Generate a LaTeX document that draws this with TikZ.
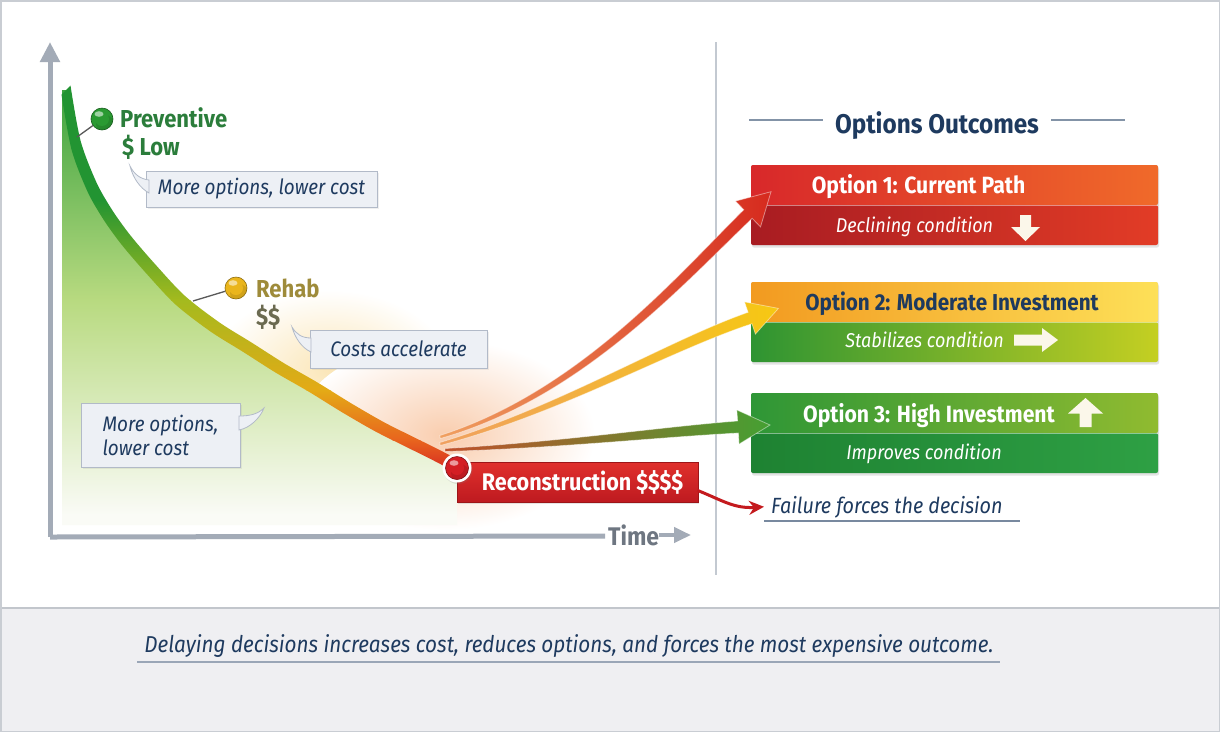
\documentclass[tikz,border=0pt]{standalone}
\usepackage{fontspec}
\setmainfont{Fira Sans}[FakeStretch=0.9]
\usetikzlibrary{arrows.meta,shadows,calc}
\definecolor{navy}{HTML}{1E3A5F}
\definecolor{prevgreen}{HTML}{2B7D3B}
\definecolor{rehabcol}{HTML}{9E8B3A}
\definecolor{dollarcol}{HTML}{6B6A50}
\definecolor{callfill}{HTML}{EDF0F5}
\definecolor{callline}{HTML}{B2BAC8}
\definecolor{axiscol}{HTML}{A3ABB7}
\definecolor{timecol}{HTML}{6E7681}
\definecolor{divcol}{HTML}{C3C9D1}
\definecolor{panelcol}{HTML}{EFEFF2}
\definecolor{panelline}{HTML}{C2C6CC}
\definecolor{framecol}{HTML}{C9CDD3}
\definecolor{glowcol}{HTML}{F9CDAE}
\definecolor{glowcol2}{HTML}{FBE6B8}
\definecolor{fillA}{HTML}{3AA23E}
\definecolor{fillB}{HTML}{B8DA80}
\definecolor{fillC}{HTML}{FAFBF6}
\definecolor{curveG}{HTML}{229432}
\definecolor{curveYG}{HTML}{A4BA1E}
\definecolor{curveY}{HTML}{E4AA16}
\definecolor{curveO}{HTML}{E8641E}
\definecolor{curveR}{HTML}{D42222}
\definecolor{failred}{HTML}{C41A1E}
\definecolor{arrwhite}{HTML}{FBF7EA}
\definecolor{ballG}{HTML}{2A9A32}
\definecolor{ballY}{HTML}{EAB51C}
\definecolor{ballR}{HTML}{D41E24}
\definecolor{oA1}{HTML}{D8282A}\definecolor{oA2}{HTML}{F06A2A}
\definecolor{oB1}{HTML}{A81C22}\definecolor{oB2}{HTML}{E23C26}
\definecolor{oC1}{HTML}{F29A20}\definecolor{oC2}{HTML}{FDE058}
\definecolor{oD1}{HTML}{2E9432}\definecolor{oD2}{HTML}{C4CF22}
\definecolor{oE1}{HTML}{2E9636}\definecolor{oE2}{HTML}{90BB30}
\definecolor{oF1}{HTML}{1E8232}\definecolor{oF2}{HTML}{2EA044}
\definecolor{aR1}{HTML}{F0A060}\definecolor{aR2}{HTML}{D62A1E}
\definecolor{aY1}{HTML}{F0A060}\definecolor{aY2}{HTML}{F6C812}
\definecolor{aG1}{HTML}{C0502A}\definecolor{aG2}{HTML}{45A032}
\definecolor{recA}{HTML}{E0302C}\definecolor{recB}{HTML}{BE1A20}
\newcommand\myfs[1]{\fontsize{#1}{#1}\selectfont}
\tikzset{
  vgrad/.style 2 args={top color=#1, bottom color=#2},
  hgrad/.style 2 args={left color=#1, right color=#2},
  lbl/.style={inner sep=0pt, font=\myfs{24.5}\bfseries},
  callout/.style={draw=callline, fill=callfill, line width=0.9pt, inner sep=0pt,
    text=navy, font=\fontsize{21}{24}\selectfont\itshape,
    drop shadow={opacity=0.12, shadow xshift=1.5pt, shadow yshift=-2pt}},
  tail/.style={fill=callfill, draw=callline, line width=0.8pt},
  stem/.style={draw=black!65, line width=1.3pt},
  ballnode/.style={circle, inner sep=0pt, draw=#1!60!black, line width=0.6pt, fill=#1,
    path picture={
      \fill[#1!70!black, opacity=0.35] ($(path picture bounding box.center)+(3,5)$) circle (9pt);
      \fill[#1] (path picture bounding box.center) circle (7pt);
      \fill[white, opacity=0.55] ($(path picture bounding box.center)+(-3,-5)$) ellipse [x radius=4.5, y radius=2.8];}},
  axisline/.style={draw=axiscol, line width=5pt},
  optbox/.style={minimum width=407pt, minimum height=80pt, inner sep=0pt, rounded corners=2pt,
    fill=black!20, drop shadow={opacity=0.22, shadow xshift=1pt, shadow yshift=-2.5pt}},
  half/.style={minimum width=407pt, minimum height=40pt, inner sep=0pt, rounded corners=2pt},
  opttitle/.style={inner sep=0pt, font=\myfs{23.5}\bfseries, anchor=base},
  optsub/.style={inner sep=0pt, font=\myfs{20}\itshape, text=white, anchor=base},
  bigarrow/.style={draw=white, draw opacity=0.45, line width=0.8pt},
}
\begin{document}
\begin{tikzpicture}[x=1pt,y=-1pt]
\useasboundingbox (0,0) rectangle (1220,732);
\fill[white] (0,0) rectangle (1220,732);

% glow near reconstruction
\shade[inner color=glowcol2, outer color=white] (330,370) ellipse [x radius=120, y radius=80];
\shade[inner color=glowcol, outer color=white] (445,435) ellipse [x radius=150, y radius=95];

% area under curve
\begin{scope}
\clip plot[smooth] coordinates {(66,90) (76,145) (92,187) (108,215) (126,240) (150,268) (180,300) (215,327) (247,347) (280,368) (313,387) (347,408) (380,427) (412,443) (440,457) (457,466)}
  -- (457,525) -- (62,525) -- (62,90) -- cycle;
\shade[vgrad={fillA}{fillB}] (55,85) rectangle (465,300);
\shade[vgrad={fillB}{fillC}] (55,300) rectangle (465,515);
\fill[fillC] (55,514) rectangle (465,527);
\end{scope}

% cost curve band
\begin{scope}
\clip plot[smooth] coordinates {(70.5,85.5) (80.5,140.5) (96.5,182.5) (112.5,210.5) (130.5,235.5) (154.5,263.5) (184.5,295.5) (219.5,322.5) (251.5,342.5) (284.5,363.5) (317.5,382.5) (351.5,403.5) (384.5,422.5) (416.5,438.5) (444.5,452.5) (461.5,461.5)}
  -- plot[smooth] coordinates {(452.5,470.5) (435.5,461.5) (407.5,447.5) (375.5,431.5) (342.5,412.5) (308.5,391.5) (275.5,372.5) (242.5,351.5) (210.5,331.5) (175.5,304.5) (145.5,272.5) (121.5,244.5) (103.5,219.5) (87.5,191.5) (71.5,149.5) (61.5,94.5)} -- cycle;
\fill[curveG] (50,80) rectangle (470,200);
\shade[vgrad={curveG}{curveYG}] (50,200) rectangle (470,300);
\shade[vgrad={curveYG}{curveY}] (50,300) rectangle (470,390);
\shade[vgrad={curveY}{curveO}] (50,390) rectangle (470,440);
\shade[vgrad={curveO}{curveR}] (50,440) rectangle (470,475);
\end{scope}

% axes
\coordinate (orig) at (50,537);
\coordinate (ytop) at (50,42);
\coordinate (xend) at (605,536);
\draw[axisline, -{Triangle[length=20pt,width=19pt]}] (orig) -- (ytop);
\draw[axisline] (orig) -- (xend);
\node[inner sep=0pt, anchor=west, text=timecol, font=\myfs{25.5}\bfseries] (time) at (608,535) {Time};
\draw[draw=axiscol, line width=4pt, -{Triangle[length=17pt,width=15pt]}] (time.east) -- (691,535);

% divider
\draw[divcol, line width=1.2pt] (716,42) -- (716,575);

% preventive
\node[ballnode=ballG, minimum size=22pt] (pb) at (102,119) {};
\coordinate (pc) at (77,137);
\draw[stem] (pc) -- (pb);
\node[lbl, text=prevgreen, anchor=base west] (prevt) at (120,127) {Preventive};
\node[lbl, text=prevgreen, anchor=base west] (prevd) at (122,155) {\$ Low};

% rehab
\node[ballnode=ballY, minimum size=22pt] (rb) at (236,288) {};
\coordinate (rc) at (193,301);
\draw[stem] (rc) -- (rb);
\node[lbl, text=rehabcol, anchor=base west] (rehabt) at (256,297) {Rehab};
\node[lbl, text=dollarcol, anchor=base west] (rehabd) at (256,325) {\$\$};

% callouts
\node[callout, minimum width=231pt, minimum height=36pt] (c1) at (261.5,189) {More options, lower cost};
\fill[tail] (149,180) .. controls (140,179) and (134,174) .. (130,166) .. controls (133,178) and (140,188) .. (149,193) -- cycle;
\node[callout, minimum width=177pt, minimum height=38pt] (c2) at (398.5,349) {Costs accelerate};
\fill[tail] (311,338) .. controls (302,338) and (296,334) .. (292,327) .. controls (295,338) and (302,348) .. (311,352) -- cycle;
\node[callout, minimum width=159pt, minimum height=64pt, align=left] (c3) at (160.5,435) {More options,\\lower cost};
\fill[tail] (239,416) .. controls (250,416) and (258,414) .. (264,408) .. controls (260,418) and (250,428) .. (239,430) -- cycle;

% options title
\node[inner sep=0pt, anchor=base, text=navy, font=\myfs{27}\bfseries] (title) at (937,133) {Options Outcomes};
\draw[navy!55, line width=1.2pt] ($(title.west)+(-12,-5)$) -- ++(-74,0);
\draw[navy!55, line width=1.2pt] ($(title.east)+(12,-5)$) -- ++(74,0);

% option 1
\node[optbox] (opt1) at (954.5,205) {};
\node[half, hgrad={oA1}{oA2}, anchor=north] (o1t) at (opt1.north) {};
\node[half, hgrad={oB1}{oB2}, anchor=south] (o1b) at (opt1.south) {};
\draw[white, opacity=0.45, line width=1pt] (o1t.south west) -- (o1t.south east);
\node[opttitle, text=white] (t1) at (918.5,193) {Option 1: Current Path};
\node[optsub] (s1) at (914.5,232) {Declining condition};
\fill[arrwhite, shift={(1025.5,228)}] (-5.5,-13) -- (5.5,-13) -- (5.5,-1) -- (14.5,-1) -- (0,13) -- (-14.5,-1) -- (-5.5,-1) -- cycle;

% option 2
\node[optbox] (opt2) at (954.5,322) {};
\node[half, hgrad={oC1}{oC2}, anchor=north] (o2t) at (opt2.north) {};
\node[half, hgrad={oD1}{oD2}, anchor=south] (o2b) at (opt2.south) {};
\draw[white, opacity=0.45, line width=1pt] (o2t.south west) -- (o2t.south east);
\node[opttitle, text=navy, font=\myfs{23}\bfseries] (t2) at (952,310) {Option 2: Moderate Investment};
\node[optsub] (s2) at (924.5,347) {Stabilizes condition};
\fill[arrwhite, shift={(1036,340)}] (-22,-5.5) -- (6,-5.5) -- (6,-12) -- (22,0) -- (6,12) -- (6,5.5) -- (-22,5.5) -- cycle;

% option 3
\node[optbox] (opt3) at (954.5,433) {};
\node[half, hgrad={oE1}{oE2}, anchor=north] (o3t) at (opt3.north) {};
\node[half, hgrad={oF1}{oF2}, anchor=south] (o3b) at (opt3.south) {};
\draw[white, opacity=0.45, line width=1pt] (o3t.south west) -- (o3t.south east);
\node[opttitle, text=white] (t3) at (929,422) {Option 3: High Investment};
\node[optsub] (s3) at (924,459) {Improves condition};
\fill[arrwhite, shift={(1085.5,412.5)}] (-6,14.5) -- (6,14.5) -- (6,1) -- (17.5,1) -- (0,-14.5) -- (-17.5,1) -- (-6,1) -- cycle;

% arrows to options
\shade[hgrad={aR1}{aR2}, bigarrow] (439.7,435.5) .. controls (579,391.5) and (677.3,275.4) .. (743.8,209.7) -- (735.5,201.1) -- (771,191.7) -- (760.5,226.9) -- (752.2,218.3) .. controls (682.7,284.6) and (581,398.5) .. (440.3,438.5) -- cycle;
\shade[hgrad={aY1}{aY2}, bigarrow] (439.8,442.5) .. controls (559.5,406.5) and (668.6,340) .. (748.1,312.3) -- (744.6,301.9) -- (778.4,308.4) -- (755.4,334.1) -- (751.9,323.7) .. controls (671.4,350) and (560.5,413.5) .. (440.2,445.5) -- cycle;
\shade[hgrad={aG1}{aG2}, bigarrow] (445,448.5) .. controls (560,442) and (659.7,427) .. (737.6,421) -- (736.9,410) -- (770,425) -- (739.1,444) -- (738.4,433) .. controls (660.3,437) and (560,448) .. (445,451.5) -- cycle;

% reconstruction
\node[inner sep=0pt, minimum width=241pt, minimum height=40pt, vgrad={recA}{recB}, draw=failred!80!black, line width=0.6pt,
  drop shadow={opacity=0.2, shadow xshift=1pt, shadow yshift=-2pt},
  text=white, font=\myfs{24}\bfseries] (recon) at (577.5,482) {\hspace*{10pt}Reconstruction \$\$\$\$};
\node[circle, inner sep=0pt, minimum size=29pt, fill=white, drop shadow={opacity=0.2, shadow xshift=1pt, shadow yshift=-1.5pt}] (ring) at (457,468) {};
\node[ballnode=ballR, minimum size=23pt] (redb) at (ring) {};

% failure
\node[inner sep=0pt, anchor=base west, text=navy, font=\myfs{22}\itshape] (fail) at (771,513) {Failure forces the decision};
\coordinate (failtip) at ($(fail.west)+(-7,0)$);
\draw[failred, line width=3pt, -{Stealth[length=15pt,width=14pt]}] ($(recon.south east)+(-1,-12)$) .. controls +(25,10) and +(-30,2) .. (failtip);
\draw[navy!60, line width=1.2pt] (764,521) -- (1020,521);

% bottom panel
\fill[panelcol] (0,608) rectangle (1220,732);
\draw[panelline, line width=2pt] (0,608) -- (1220,608);
\node[inner sep=0pt, anchor=base, text=navy, font=\myfs{23}\itshape] (msg) at (569,652) {Delaying decisions increases cost, reduces options, and forces the most expensive outcome.};
\draw[navy!45, line width=1.5pt] (137,662) -- (1000,662);

% frame
\draw[framecol, line width=1.5pt] (0.75,0.75) rectangle (1219.25,731.25);
\end{tikzpicture}
\end{document}
